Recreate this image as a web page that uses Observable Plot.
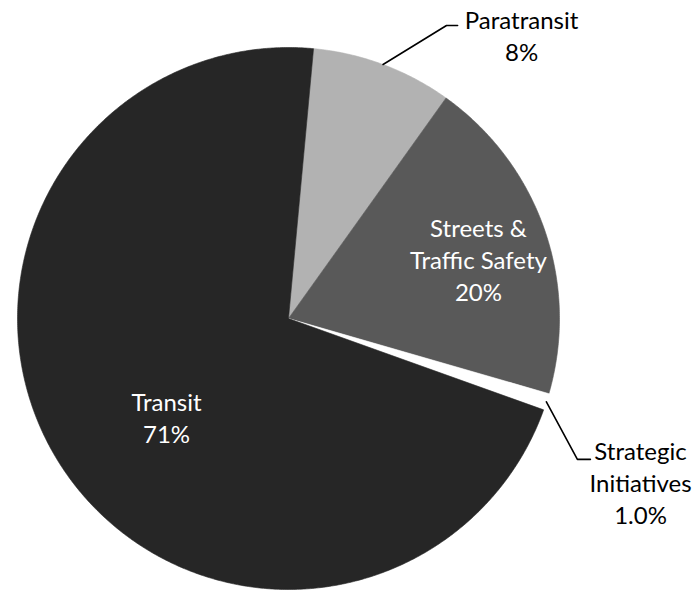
<!DOCTYPE html>
<html><head><meta charset="utf-8">
<script src="https://cdn.jsdelivr.net/npm/d3@7"></script>
<script src="https://cdn.jsdelivr.net/npm/@observablehq/plot@0.6"></script>
<style>body{margin:0;background:#fff;} svg{display:block;}</style>
</head><body><div id="chart"></div>
<script>
// ---- data ----
const categories = ["Paratransit", "Streets & Traffic Safety", "Strategic Initiatives", "Transit"];
const shares = [8.4, 19.6, 1.0, 71.0];
const shareLabels = ["8%", "20%", "1.0%", "71%"];
const nameLines = ["Paratransit", "Streets &\nTraffic Safety", "Strategic\nInitiatives", "Transit"];
const sliceColors = ["#b2b2b2", "#595959", "#ffffff", "#262626"];
const labelColors = ["#000000", "#ffffff", "#000000", "#ffffff"];
const startAngleDeg = 5.3;

// ---- layout (unit-circle coordinates, radius = 1) ----
const labelPos = [
  {x: 0.860, y: 0.952},
  {x: 0.701, y: 0.063},
  {x: 1.299, y: -0.760},
  {x: -0.450, y: -0.458}
];
const leaderBends = {
  0: [{x: 0.583, y: 1.081}, {x: 0.624, y: 1.081}],
  2: [{x: 1.066, y: -0.520}, {x: 1.114, y: -0.520}]
};

// ---- build slices ----
const total = d3.sum(shares);
const rad = Math.PI / 180;
let acc = startAngleDeg * rad;
const slices = categories.map((c, i) => {
  const a0 = acc, a1 = acc + shares[i] / total * 2 * Math.PI;
  acc = a1;
  return {category: c, a0, a1, mid: (a0 + a1) / 2, i};
});
const polyPts = [];
for (const s of slices) {
  polyPts.push({k: s.category, x: 0, y: 0, i: s.i});
  const n = Math.max(4, Math.ceil((s.a1 - s.a0) / (0.4 * rad)));
  for (let j = 0; j <= n; j++) {
    const a = s.a0 + (s.a1 - s.a0) * j / n;
    polyPts.push({k: s.category, x: Math.sin(a), y: Math.cos(a), i: s.i});
  }
  polyPts.push({k: s.category, x: 0, y: 0, i: s.i});
}
const labels = slices.map(s => ({
  text: nameLines[s.i] + "\n" + shareLabels[s.i],
  x: labelPos[s.i].x, y: labelPos[s.i].y, color: labelColors[s.i]
}));
const leaderPts = [];
for (const key of Object.keys(leaderBends)) {
  const s = slices[+key];
  leaderPts.push({k: key, x: Math.sin(s.mid), y: Math.cos(s.mid)});
  for (const p of leaderBends[key]) leaderPts.push({k: key, x: p.x, y: p.y});
}

const cx = 288, cy = 318, R = 271, W = 696, H = 590;
const chart = Plot.plot({
  width: W, height: H,
  marginLeft: cx - R, marginRight: W - (cx + R),
  marginTop: cy - R, marginBottom: H - (cy + R),
  x: {domain: [-1, 1], axis: null},
  y: {domain: [-1, 1], axis: null},
  style: {fontFamily: "Lato, 'Open Sans', sans-serif", background: "#fff"},
  marks: [
    Plot.line(polyPts, {x: "x", y: "y", z: "k", curve: "linear",
      fill: d => sliceColors[d.i], stroke: d => sliceColors[d.i], strokeWidth: 0.6}),
    Plot.line(leaderPts, {x: "x", y: "y", z: "k", stroke: "#000", strokeWidth: 1.6}),
    Plot.text(labels, {x: "x", y: "y", text: "text", fill: "color",
      fontSize: 24, lineHeight: 1.333, lineAnchor: "bottom", textAnchor: "middle"})
  ]
});
document.getElementById("chart").appendChild(chart);
</script>
</body></html>
